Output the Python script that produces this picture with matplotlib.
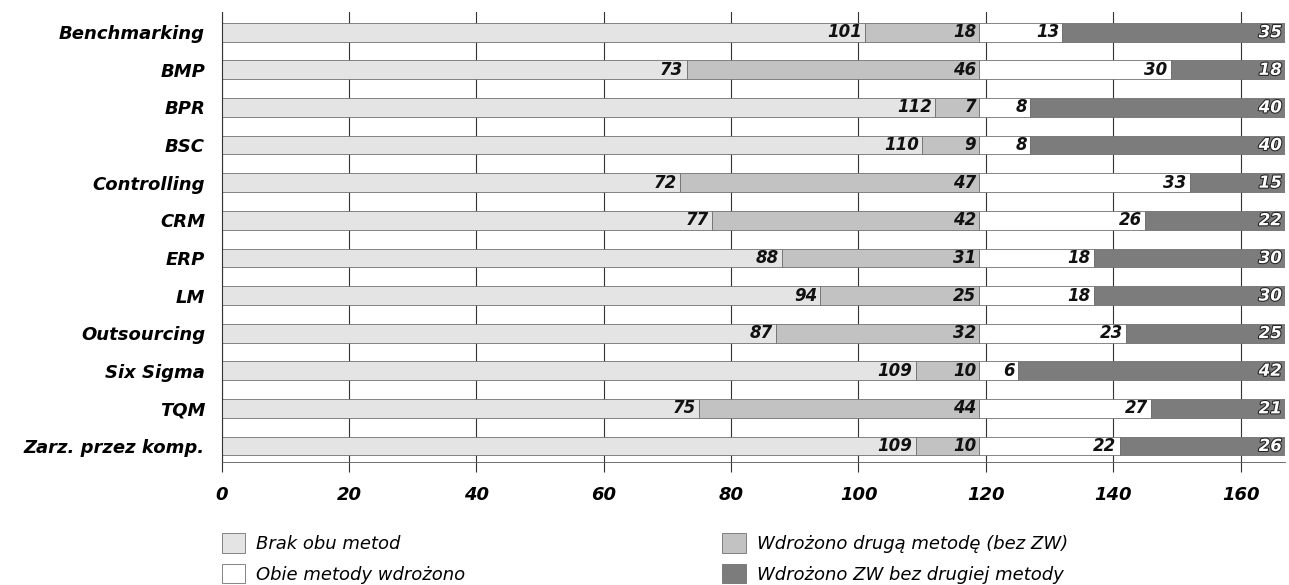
import matplotlib.pyplot as plt
import matplotlib.patheffects as pe
import numpy as np

categories = ['Benchmarking', 'BMP', 'BPR', 'BSC', 'Controlling', 'CRM', 'ERP', 'LM',
              'Outsourcing', 'Six Sigma', 'TQM', 'Zarz. przez komp.']
brak = [101, 73, 112, 110, 72, 77, 88, 94, 87, 109, 75, 109]
druga = [18, 46, 7, 9, 47, 42, 31, 25, 32, 10, 44, 10]
obie = [13, 30, 8, 8, 33, 26, 18, 18, 23, 6, 27, 22]
zw = [35, 18, 40, 40, 15, 22, 30, 30, 25, 42, 21, 26]
series_names = ['Brak obu metod', 'Wdrożono drugą metodę (bez ZW)',
                'Obie metody wdrożono', 'Wdrożono ZW bez drugiej metody']
colors = ['#e4e4e4', '#c2c2c2', '#ffffff', '#7c7c7c']

plt.rcParams['font.family'] = ['DejaVu Sans']
fig = plt.figure(figsize=(12.89, 5.85), dpi=100)
ax = fig.add_axes([0.172, 0.21, 0.825, 0.769])

y = np.arange(len(categories))
left = np.zeros(len(categories))
handles = []
for k, vals in enumerate([brak, druga, obie, zw]):
    vals = np.array(vals)
    b = ax.barh(y, vals, left=left, height=0.5, color=colors[k],
                edgecolor='#707070', linewidth=0.6, zorder=2)
    handles.append(b)
    for i in range(len(categories)):
        txt = ax.text(left[i] + vals[i] - 0.5, y[i], str(vals[i]), ha='right', va='center',
                      fontsize=12, fontweight='bold', fontstyle='italic',
                      color='white' if k == 3 else '#111111', zorder=3)
        if k == 3:
            txt.set_path_effects([pe.withStroke(linewidth=1.5, foreground='#222222')])
    left += vals

ax.set_xlim(0, 167)
ax.set_ylim(len(categories) - 1 + 0.43, -0.53)
ax.set_yticks(y)
ax.set_yticklabels(categories, fontsize=13, fontweight='bold', fontstyle='italic')
ax.set_xticks(np.arange(0, 161, 20))
ax.tick_params(axis='x', labelsize=13, length=7, width=0.8, color='#333333', pad=10)
ax.tick_params(axis='y', length=0, pad=12)
for lab in ax.get_xticklabels():
    lab.set_fontweight('bold')
    lab.set_fontstyle('italic')
ax.xaxis.grid(True, color='#333333', linewidth=0.8, zorder=0)
ax.set_axisbelow(True)
for s in ['top', 'right']:
    ax.spines[s].set_visible(False)
ax.spines['left'].set_color('#333333')
ax.spines['bottom'].set_color('#555555')
ax.spines['bottom'].set_linewidth(0.6)

order = [0, 2, 1, 3]
leg = fig.legend([handles[i] for i in order], [series_names[i] for i in order],
                 ncol=2, loc='upper left', bbox_to_anchor=(0.172, 0.089), frameon=False,
                 borderpad=0, borderaxespad=0,
                 prop={'size': 13, 'style': 'italic'}, handlelength=1.3, handleheight=1.3,
                 columnspacing=14.25, labelspacing=0.6, handletextpad=0.6)
fig.savefig('out.png', dpi=100)
